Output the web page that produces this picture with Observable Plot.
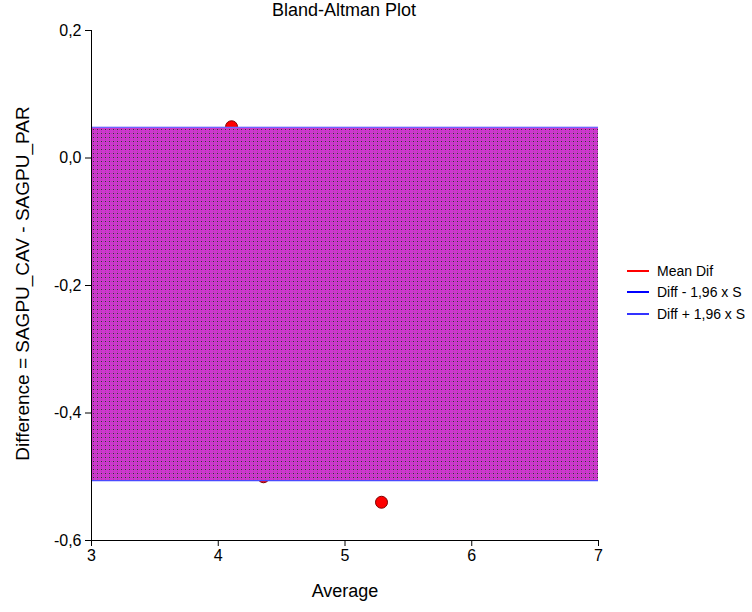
<!DOCTYPE html>
<html>
<head>
<meta charset="utf-8">
<script src="https://cdn.jsdelivr.net/npm/d3@7"></script>
<script src="https://cdn.jsdelivr.net/npm/@observablehq/plot@0.6"></script>
<style>
  body { margin: 0; background: #fff; font-family: "Liberation Sans", Arial, sans-serif; }
  #wrap { position: relative; width: 752px; height: 612px; }
  #title { position: absolute; top: 0px; left: 0; width: 688px; text-align: center; font-size: 18px; color: #000; }
  #legend { position: absolute; left: 627px; top: 260px; font-size: 14px; color: #000; }
  .item { display: flex; align-items: center; height: 21.5px; }
  .item svg { margin-right: 8px; }
</style>
</head>
<body>
<div id="wrap">
  <div id="title">Bland-Altman Plot</div>
  <div id="legend"></div>
</div>
<script>
// Data
const averages = [4.105, 4.357, 5.288];
const differences = [0.049, -0.500, -0.540];
const meanDif = -0.229;
const lowerLimit = -0.506;
const upperLimit = 0.048;
const xTicks = [3, 4, 5, 6, 7];
const yTicks = [0.2, 0.0, -0.2, -0.4, -0.6];
const legendLabels = ["Mean Dif", "Diff - 1,96 x S", "Diff + 1,96 x S"];
const legendColors = ["#ff0000", "#0000ff", "#3333ff"];

const points = averages.map((a, i) => ({avg: a, diff: differences[i]}));
const band = [{x1: 3, x2: 7, y1: lowerLimit, y2: upperLimit}];
const fmt = d => d.toFixed(1).replace(".", ",");

const chart = Plot.plot({
  width: 752,
  height: 612,
  marginLeft: 91,
  marginRight: 154,
  marginTop: 30,
  marginBottom: 72,
  style: {fontFamily: "Liberation Sans, Arial, sans-serif", fontSize: "16px", color: "#000", background: "#fff"},
  x: {domain: [3, 7]},
  y: {domain: [-0.6, 0.2]},
  marks: [
    Plot.axisX({ticks: xTicks, tickFormat: d => String(d), tickSize: 6, tickPadding: 3, label: null, fontSize: 16}),
    Plot.axisY({ticks: yTicks, tickFormat: fmt, tickSize: 6, tickPadding: 4, label: null, fontSize: 16}),
    Plot.text(["Average"], {frameAnchor: "bottom", dy: 51, fontSize: 18, lineAnchor: "middle", textAnchor: "middle"}),
    Plot.text(["Difference = SAGPU_CAV - SAGPU_PAR"], {frameAnchor: "left", dx: -69, dy: -2, rotate: -90, fontSize: 19, lineAnchor: "middle", textAnchor: "middle"}),
    Plot.ruleY([meanDif], {x1: 3, x2: 7, stroke: "#ff0000", strokeWidth: 1}),
    Plot.dot(points, {x: "avg", y: "diff", r: 6, fill: "#ff0000", stroke: "#800000", strokeWidth: 1}),
    Plot.rect(band, {x1: "x1", x2: "x2", y1: "y1", y2: "y2", fill: "url(#bandpat)"}),
    Plot.ruleY([upperLimit], {x1: 3, x2: 7, stroke: "#6a6aff", strokeWidth: 1.2}),
    Plot.ruleY([lowerLimit], {x1: 3, x2: 7, stroke: "#4a4aff", strokeWidth: 1.2}),
    Plot.ruleX([3], {y1: -0.6, y2: 0.2, stroke: "#000", strokeWidth: 1}),
    Plot.ruleY([-0.6], {x1: 3, x2: 7, stroke: "#000", strokeWidth: 1})
  ]
});

chart.insertAdjacentHTML("afterbegin",
  `<defs><pattern id="bandpat" x="0" y="0" width="4" height="4" patternUnits="userSpaceOnUse" shape-rendering="crispEdges">
     <rect width="4" height="4" fill="#cf35cf"/>
     <rect x="1" y="1" width="1" height="1" fill="#333333"/>
     <rect x="3" y="1" width="1" height="1" fill="#9a5a9a"/>
     <rect x="1" y="3" width="1" height="1" fill="#a050a0"/>
   </pattern></defs>`);

document.getElementById("wrap").prepend(chart);
chart.style.position = "absolute";
chart.style.left = "0";
chart.style.top = "0";

const legend = document.getElementById("legend");
legendLabels.forEach((lab, i) => {
  const div = document.createElement("div");
  div.className = "item";
  div.innerHTML = `<svg width="22" height="4"><line x1="0" x2="22" y1="2" y2="2" stroke="${legendColors[i]}" stroke-width="2"/></svg><span>${lab}</span>`;
  legend.appendChild(div);
});
</script>
</body>
</html>
